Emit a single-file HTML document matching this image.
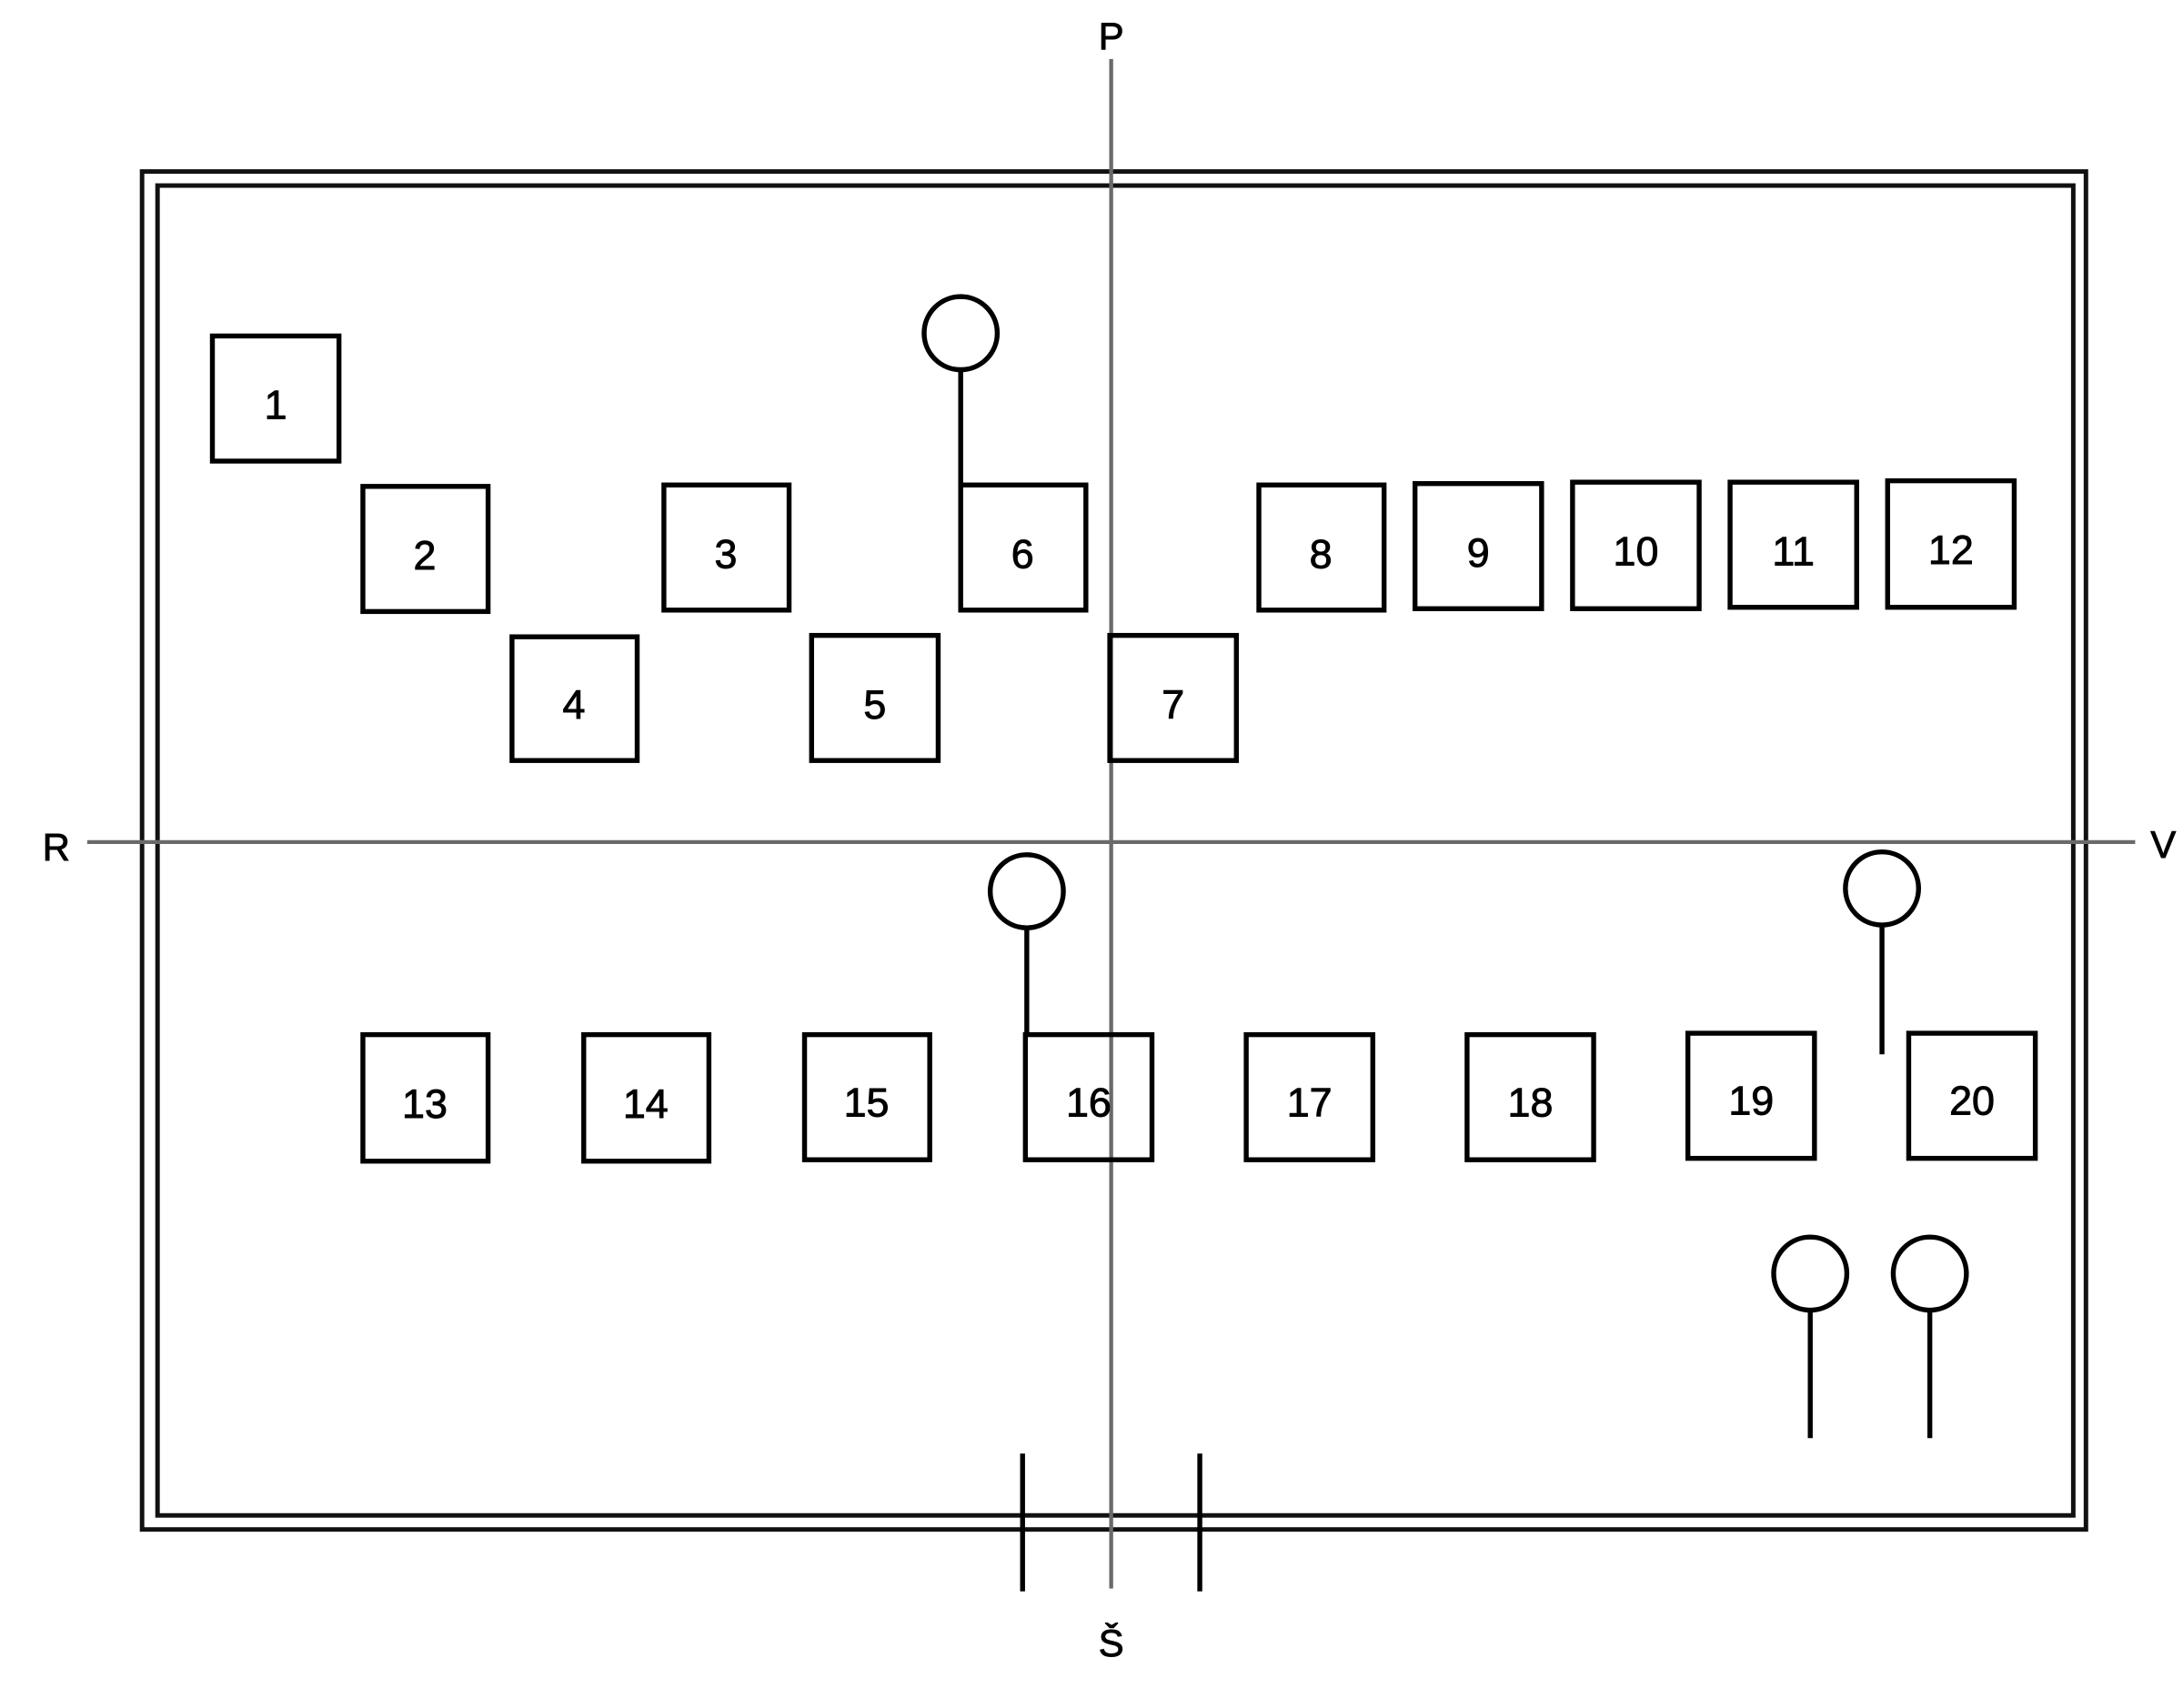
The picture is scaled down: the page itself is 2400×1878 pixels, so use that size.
<!DOCTYPE html>
<html><head><meta charset="utf-8"><style>
html,body{margin:0;padding:0;background:#fff;}
svg{display:block;}
text{font-family:"Liberation Sans",sans-serif;fill:#000;stroke:#000;stroke-width:0.6;}
</style></head><body>
<svg width="2400" height="1878" viewBox="0 0 1552 1215" preserveAspectRatio="none" xmlns="http://www.w3.org/2000/svg">
<rect x="0" y="0" width="1552" height="1215" fill="#fff"/>
<g fill="none" stroke="#111" stroke-width="3.2">
<rect x="101" y="122" width="1382" height="966"/>
<rect x="112" y="132" width="1362" height="946"/>
</g>
<g stroke="#6a6a6a" stroke-width="2.8">
<line x1="790" y1="42" x2="790" y2="1130"/>
<line x1="62" y1="599" x2="1518" y2="599"/>
</g>
<g font-size="27" text-anchor="middle">
<text x="790" y="35">P</text>
<text x="40" y="612">R</text>
<text x="1538" y="610">V</text>
<text x="790" y="1178">Š</text>
</g>
<g fill="none" stroke="#000" stroke-width="3.5">
<rect x="151" y="239" width="90" height="89"/>
<rect x="258" y="346" width="89" height="89"/>
<rect x="472" y="345" width="89" height="89"/>
<rect x="683" y="345" width="89" height="89"/>
<rect x="364" y="453" width="89" height="88"/>
<rect x="577" y="452" width="90" height="89"/>
<rect x="789" y="452" width="90" height="89"/>
<rect x="895" y="345" width="89" height="89"/>
<rect x="1006" y="344" width="90" height="89"/>
<rect x="1118" y="343" width="90" height="90"/>
<rect x="1230" y="343" width="90" height="89"/>
<rect x="1342" y="342" width="90" height="90"/>
<rect x="258" y="736" width="89" height="90"/>
<rect x="415" y="736" width="89" height="90"/>
<rect x="572" y="736" width="89" height="89"/>
<rect x="729" y="736" width="90" height="89"/>
<rect x="886" y="736" width="90" height="89"/>
<rect x="1043" y="736" width="90" height="89"/>
<rect x="1200" y="735" width="90" height="89"/>
<rect x="1357" y="735" width="90" height="89"/>
<circle cx="683" cy="237" r="26"/><line x1="683" y1="263" x2="683" y2="345"/>
<circle cx="730" cy="634" r="26"/><line x1="730" y1="660" x2="730" y2="736"/>
<circle cx="1338" cy="632" r="26"/><line x1="1338" y1="658" x2="1338" y2="750"/>
<circle cx="1287" cy="906" r="26"/><line x1="1287" y1="932" x2="1287" y2="1023"/>
<circle cx="1372" cy="906" r="26"/><line x1="1372" y1="932" x2="1372" y2="1023"/>
<line x1="727" y1="1034" x2="727" y2="1132"/>
<line x1="853" y1="1034" x2="853" y2="1132"/>
</g>
<g font-size="29" text-anchor="middle">
<text x="196" y="298">1</text>
<text x="302" y="405">2</text>
<text x="516" y="404">3</text>
<text x="727" y="404">6</text>
<text x="408" y="511">4</text>
<text x="622" y="511">5</text>
<text x="834" y="511">7</text>
<text x="939" y="404">8</text>
<text x="1051" y="403">9</text>
<text x="1163" y="402">10</text>
<text x="1275" y="402">11</text>
<text x="1387" y="401">12</text>
<text x="302" y="795">13</text>
<text x="459" y="795">14</text>
<text x="616" y="794">15</text>
<text x="774" y="794">16</text>
<text x="931" y="794">17</text>
<text x="1088" y="794">18</text>
<text x="1245" y="793">19</text>
<text x="1402" y="793">20</text>
</g>
</svg>
</body></html>
